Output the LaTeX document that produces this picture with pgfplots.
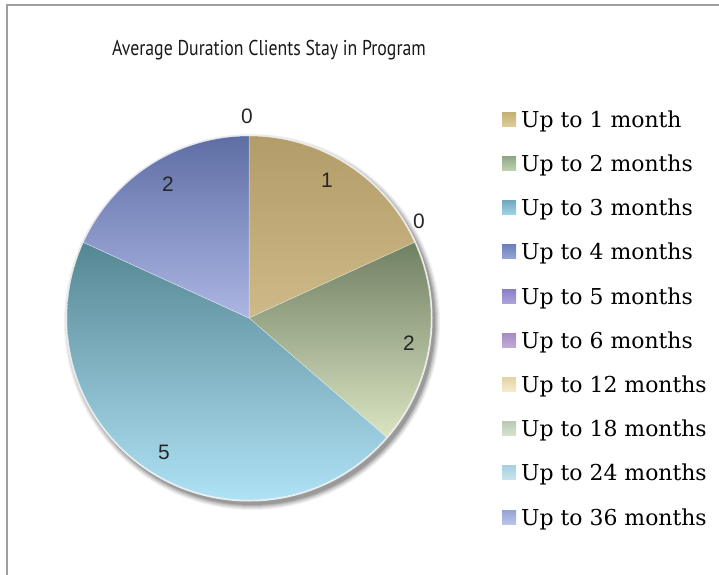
\documentclass[border=0pt]{standalone}
\usepackage{fontspec}
\setmainfont{DejaVu Serif}
\newfontfamily\titlefont{PT Sans}
\newfontfamily\labelfont{Liberation Sans}
\usepackage{graphicx}
\usepackage{pgfplots}
\pgfplotsset{compat=1.18}
\usepackage{pgfplotstable}

% slice colours (top -> bottom of each slice)
\definecolor{tanT}{RGB}{178,156,104}
\definecolor{tanB}{RGB}{206,186,136}
\definecolor{grnT}{RGB}{112,128,98}
\definecolor{grnB}{RGB}{218,228,194}
\definecolor{bluT}{RGB}{84,134,146}
\definecolor{bluB}{RGB}{176,226,246}
\definecolor{lavT}{RGB}{94,110,164}
\definecolor{lavB}{RGB}{172,182,228}
% legend swatches
\definecolor{l1a}{RGB}{196,176,118}\definecolor{l1b}{RGB}{222,204,150}
\definecolor{l2a}{RGB}{146,166,134}\definecolor{l2b}{RGB}{192,208,178}
\definecolor{l3a}{RGB}{116,168,190}\definecolor{l3b}{RGB}{160,212,232}
\definecolor{l4a}{RGB}{108,128,190}\definecolor{l4b}{RGB}{152,166,212}
\definecolor{l5a}{RGB}{136,126,200}\definecolor{l5b}{RGB}{172,162,218}
\definecolor{l6a}{RGB}{166,138,198}\definecolor{l6b}{RGB}{192,172,214}
\definecolor{l7a}{RGB}{228,212,166}\definecolor{l7b}{RGB}{246,236,204}
\definecolor{l8a}{RGB}{186,202,182}\definecolor{l8b}{RGB}{216,226,206}
\definecolor{l9a}{RGB}{166,208,224}\definecolor{l9b}{RGB}{202,228,238}
\definecolor{l10a}{RGB}{148,162,214}\definecolor{l10b}{RGB}{186,196,232}

% slices as drawn clockwise from the top: relative size and printed label
\pgfplotstableread{
slice size shown
zeroTop 0 0
tan     2 1
zeroR   0 0
green   2 2
blue    5 5
lav     2 2
}\piedata

\pgfplotsset{sw/.style 2 args={legend image code/.code={%
  \shade[top color=#1,bottom color=#2,draw=none] (0bp,-4bp) rectangle (14bp,10bp);}}}

\begin{document}
\begin{tikzpicture}
\useasboundingbox (0,0) rectangle (719bp,575bp);
\pgfmathsetmacro\unit{360/(2+2+5+2)}
\pgfmathsetmacro\aA{90-2*\unit}
\pgfmathsetmacro\aB{\aA-2*\unit}
\pgfmathsetmacro\aC{\aB-5*\unit}
\pgfmathsetmacro\aD{\aC-2*\unit}
\begin{axis}[
  at={(0,0)}, anchor=south west,
  scale only axis, width=719bp, height=575bp,
  xmin=0, xmax=719, ymin=0, ymax=575, y dir=reverse,
  hide axis, clip=false,
  legend style={at={(axis cs:502,112)}, anchor=north west, draw=none, fill=none,
    font=\fontsize{22}{25}\selectfont, inner sep=0pt, row sep=24.2bp,
    nodes={inner sep=0pt, text height=15bp, text depth=5bp},
    /tikz/every odd column/.append style={column sep=5bp}},
  legend cell align=left,
]
% shadow
\fill[black,opacity=0.05] (axis cs:252,322) circle[radius=188bp];
\fill[black,opacity=0.06] (axis cs:252,322) circle[radius=187bp];
\fill[black,opacity=0.07] (axis cs:252,322) circle[radius=186bp];
\fill[black,opacity=0.08] (axis cs:252,322) circle[radius=185bp];
\fill[black,opacity=0.10] (axis cs:252,322) circle[radius=184bp];
\fill[black,opacity=0.12] (axis cs:252,322) circle[radius=183bp];
\fill[white!85!gray] (axis cs:249,318) circle[radius=183.5bp];
% slices
\addplot[forget plot, shade, top color=tanT, bottom color=tanB, draw=white, draw opacity=0.5, line width=0.5bp,
  domain=\aA:90, samples=60, variable=\t] ({249+182*cos(\t)},{318-182*sin(\t)}) -- (axis cs:249,318) -- cycle;
\addplot[forget plot, shade, top color=grnT, bottom color=grnB, draw=white, draw opacity=0.5, line width=0.5bp,
  domain=\aB:\aA, samples=60, variable=\t] ({249+182*cos(\t)},{318-182*sin(\t)}) -- (axis cs:249,318) -- cycle;
\addplot[forget plot, shade, top color=bluT, bottom color=bluB, draw=white, draw opacity=0.5, line width=0.5bp,
  domain=\aC:\aB, samples=120, variable=\t] ({249+182*cos(\t)},{318-182*sin(\t)}) -- (axis cs:249,318) -- cycle;
\addplot[forget plot, shade, top color=lavT, bottom color=lavB, draw=white, draw opacity=0.5, line width=0.5bp,
  domain=\aD:\aC, samples=60, variable=\t] ({249+182*cos(\t)},{318-182*sin(\t)}) -- (axis cs:249,318) -- cycle;
% labels
\begin{scope}[font=\labelfont\fontsize{21}{24}\selectfont, text=black!85]
\node at (axis cs:247,116) {0};
\node at (axis cs:327,180) {1};
\node at (axis cs:419,221) {0};
\node at (axis cs:409,343) {2};
\node at (axis cs:164,452) {5};
\node at (axis cs:168,184) {2};
\end{scope}
\node[font=\titlefont\fontsize{21.5}{24}\selectfont, anchor=base, text=black!90, inner sep=0pt] at (axis cs:269,56) {\scalebox{0.83}[1]{Average Duration Clients Stay in Program}};
% legend
\addlegendimage{sw={l1a}{l1b}}\addlegendentry{Up to 1 month}
\addlegendimage{sw={l2a}{l2b}}\addlegendentry{Up to 2 months}
\addlegendimage{sw={l3a}{l3b}}\addlegendentry{Up to 3 months}
\addlegendimage{sw={l4a}{l4b}}\addlegendentry{Up to 4 months}
\addlegendimage{sw={l5a}{l5b}}\addlegendentry{Up to 5 months}
\addlegendimage{sw={l6a}{l6b}}\addlegendentry{Up to 6 months}
\addlegendimage{sw={l7a}{l7b}}\addlegendentry{Up to 12 months}
\addlegendimage{sw={l8a}{l8b}}\addlegendentry{Up to 18 months}
\addlegendimage{sw={l9a}{l9b}}\addlegendentry{Up to 24 months}
\addlegendimage{sw={l10a}{l10b}}\addlegendentry{Up to 36 months}
\end{axis}
\draw[gray!75, line width=2bp] (7bp,0bp) -- (7bp,570bp) -- (719bp,570bp);
\end{tikzpicture}
\end{document}
